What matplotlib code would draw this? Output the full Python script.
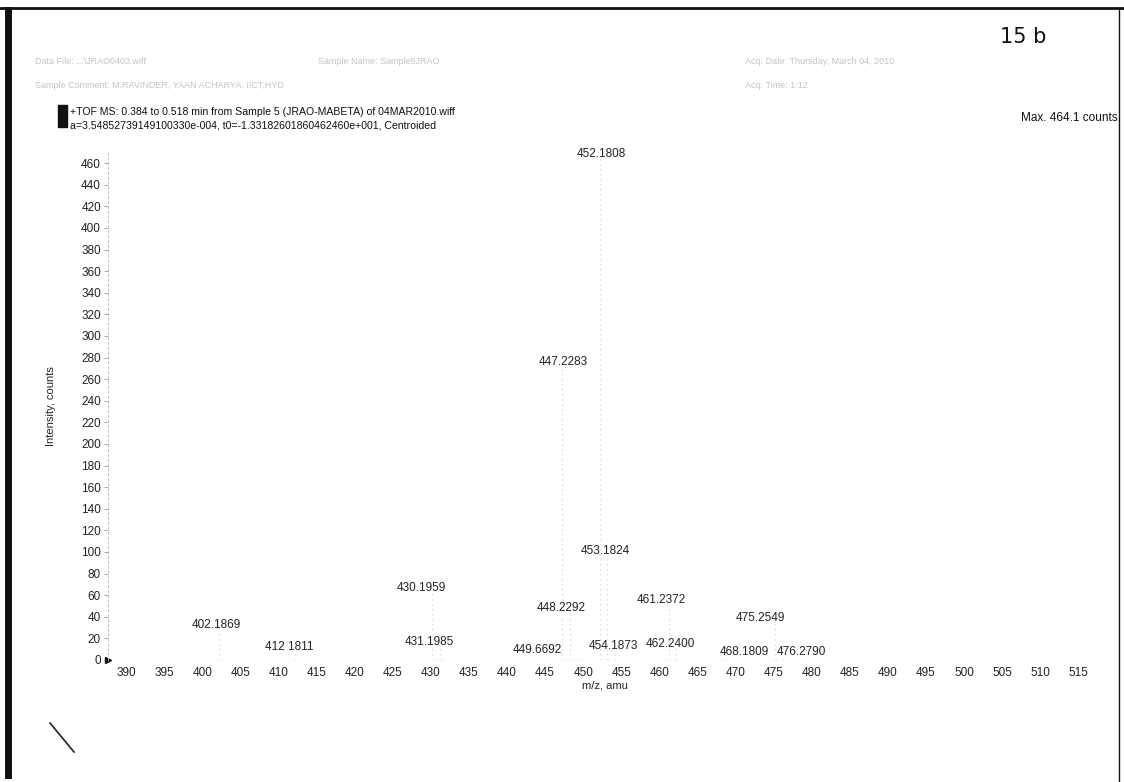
import matplotlib
matplotlib.use('Agg')
from matplotlib import pyplot as plt
from matplotlib.lines import Line2D

plt.rcParams['font.family'] = ['Liberation Sans', 'DejaVu Sans']

# labelled centroid peaks (m/z, intensity in counts)
peak_mz = [402.1869, 412.1811, 430.1959, 431.1985, 447.2283, 448.2292, 449.6692,
           452.1808, 453.1824, 454.1873, 461.2372, 462.2400, 468.1809, 475.2549, 476.2790]
peak_int = [28, 8, 62, 12, 272, 43.5, 4.6, 464.1, 97, 8.3, 51, 11, 3, 35, 3]
peak_labels = ['402.1869', '412 1811', '430.1959', '431.1985', '447.2283', '448.2292', '449.6692',
               '452.1808', '453.1824', '454.1873', '461.2372', '462.2400', '468.1809', '475.2549', '476.2790']

x_ticks = list(range(390, 520, 5))
y_ticks = list(range(0, 480, 20))

# label nudges (pixels) the software used to keep labels apart
label_dx = [-3, -6, -11, -11, 1, -9, -43, 2, -2, -2, -7, -6, 23, -15, 18]

fig = plt.figure(figsize=(11.24, 7.82), dpi=100)
ax = fig.add_axes([108 / 1124, 122 / 782, 993 / 1124, 507.6 / 782])

# faded scan: stems are barely visible
ax.vlines(peak_mz, 0, peak_int, colors='#d4d4d4', linewidth=0.9, linestyles=(0, (1, 3)))
for mz, h, lab, dx in zip(peak_mz, peak_int, peak_labels, label_dx):
    ax.annotate(lab, (mz, h), xytext=(dx * 0.72, -1), textcoords='offset points',
                ha='center', va='bottom', fontsize=8.5, color='#222222')

ax.axhline(0, color='#bbbbbb', linewidth=0.8, linestyle=(0, (3, 3)))
ax.plot([387.6], [0], marker='>', color='#111111', markersize=5, clip_on=False)

ax.set_xlim(387.6, 518)
ax.set_ylim(0, 470)
ax.set_xticks(x_ticks)
ax.set_yticks(y_ticks)
ax.tick_params(axis='x', length=0, pad=5, labelsize=8.5, labelcolor='#222222')
ax.tick_params(axis='y', length=3, width=0.6, color='#999999', pad=2, labelsize=8.5, labelcolor='#222222')
for s in ['top', 'right', 'bottom']:
    ax.spines[s].set_visible(False)
ax.spines['left'].set_color('#bbbbbb')
ax.spines['left'].set_linestyle((0, (2, 3)))
ax.spines['left'].set_linewidth(0.7)

ax.set_ylabel('Intensity, counts', fontsize=8, color='#222222', labelpad=18)
fig.text(605 / 1124, 1 - 685 / 782, 'm/z, amu', fontsize=8, color='#222222', ha='center', va='center')

# page header
fig.text(70 / 1124, 1 - 112 / 782, '+TOF MS: 0.384 to 0.518 min from Sample 5 (JRAO-MABETA) of 04MAR2010.wiff',
         fontsize=7.6, color='#111111', va='center')
fig.text(70 / 1124, 1 - 125 / 782, 'a=3.54852739149100330e-004, t0=-1.33182601860462460e+001, Centroided',
         fontsize=7.6, color='#111111', va='center')
fig.text(1121 / 1124, 1 - 118 / 782, 'Max. 464.1 counts.', fontsize=8.5, color='#111111', ha='right', va='center')
fig.patches.append(plt.Rectangle((58 / 1124, 1 - 127 / 782), 9 / 1124, 22 / 782,
                                 transform=fig.transFigure, color='#111111'))

# faded header lines from the scan
faint = '#c4c4c4'
fig.text(35 / 1124, 1 - 62 / 782, 'Data File: ...\\JRAO0403.wiff', fontsize=6.5, color=faint, va='center')
fig.text(318 / 1124, 1 - 62 / 782, 'Sample Name: Sample5JRAO', fontsize=6.5, color=faint, va='center')
fig.text(35 / 1124, 1 - 85 / 782, 'Sample Comment: M.RAVINDER, YAAN ACHARYA, IICT,HYD', fontsize=6.5, color=faint, va='center')
fig.text(745 / 1124, 1 - 62 / 782, 'Acq. Date: Thursday, March 04, 2010', fontsize=6.5, color=faint, va='center')
fig.text(745 / 1124, 1 - 85 / 782, 'Acq. Time: 1:12', fontsize=6.5, color=faint, va='center')
fig.text(1000 / 1124, 1 - 37 / 782, '15 b', fontsize=15, color='#111111', va='center', family=['DejaVu Sans'])

# scan border and pen stroke
fig.lines.append(Line2D([0, 1], [1 - 8 / 782, 1 - 8 / 782], transform=fig.transFigure, color='#111111', linewidth=2))
fig.lines.append(Line2D([8 / 1124, 8 / 1124], [1 - 10 / 782, 1 - 775 / 782], transform=fig.transFigure,
                        color='#111111', linewidth=5))
fig.lines.append(Line2D([1119 / 1124, 1119 / 1124], [1 - 8 / 782, 1 - 782 / 782], transform=fig.transFigure,
                        color='#111111', linewidth=1))
fig.lines.append(Line2D([50 / 1124, 74 / 1124], [1 - 723 / 782, 1 - 752 / 782], transform=fig.transFigure,
                        color='#222222', linewidth=1.2))

fig.savefig('out.png', dpi=100)
